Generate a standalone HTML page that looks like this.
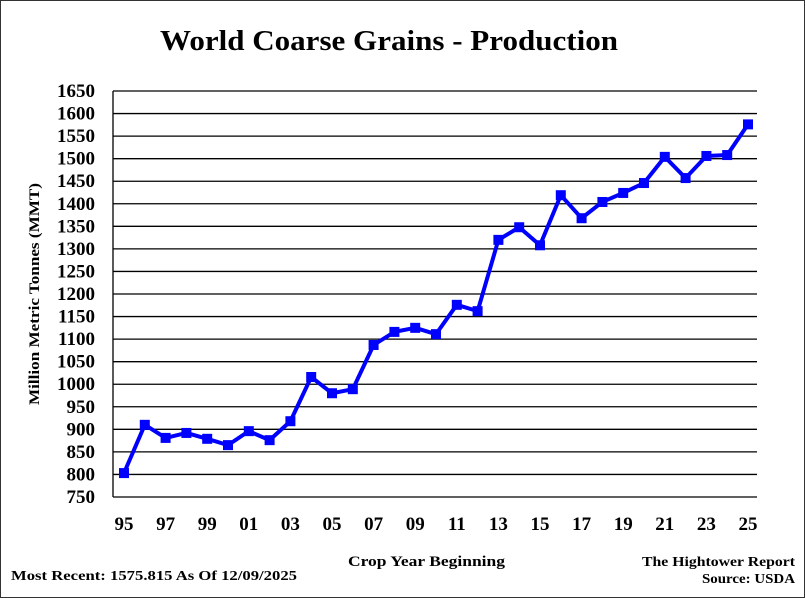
<!DOCTYPE html>
<html><head><meta charset="utf-8"><style>
html,body{margin:0;padding:0;background:#fff}
svg{display:block}
text{font-family:"Liberation Serif",serif;font-weight:bold;fill:#000}
</style></head><body>
<svg id="chart" width="805" height="598" viewBox="0 0 805 598">
<rect x="0.5" y="0.5" width="804" height="597" fill="#fff" stroke="#333"/>
<text x="160" y="50" font-size="29" textLength="458" lengthAdjust="spacingAndGlyphs">World Coarse Grains - Production</text>
<g id="grid"></g>
<g id="yticks"></g>
<g id="xticks"></g>
<g id="series"></g>
<text transform="translate(39,405) rotate(-90)" font-size="15" textLength="222" lengthAdjust="spacingAndGlyphs">Million Metric Tonnes (MMT)</text>
<text x="348" y="566" font-size="15" textLength="157" lengthAdjust="spacingAndGlyphs">Crop Year Beginning</text>
<text x="11" y="580" font-size="14" textLength="286" lengthAdjust="spacingAndGlyphs">Most Recent: 1575.815 As Of 12/09/2025</text>
<text x="642" y="566" font-size="14" textLength="153" lengthAdjust="spacingAndGlyphs">The Hightower Report</text>
<text x="702" y="583" font-size="14" textLength="93" lengthAdjust="spacingAndGlyphs">Source: USDA</text>
</svg>
<script>
const years = ["95","96","97","98","99","00","01","02","03","04","05","06","07","08","09","10","11","12","13","14","15","16","17","18","19","20","21","22","23","24","25"];
const production = [803,910,881,892,879,865,896,876,918,1016,980,989,1087,1116,1125,1111,1176,1162,1320,1348,1308,1419,1368,1404,1424,1446,1504,1457,1506,1508,1576];
const yTickValues = [750,800,850,900,950,1000,1050,1100,1150,1200,1250,1300,1350,1400,1450,1500,1550,1600,1650];
const xTickLabels = ["95","97","99","01","03","05","07","09","11","13","15","17","19","21","23","25"];

const NS="http://www.w3.org/2000/svg";
const yMin=750,yMax=1650,pTop=91,pBot=497,pLeft=113,pRight=757,x0=124,x1=748;
const yScale=v=>pBot-(v-yMin)/(yMax-yMin)*(pBot-pTop);
const xScale=i=>x0+i*(x1-x0)/(years.length-1);
function mk(t,a){const e=document.createElementNS(NS,t);for(const k in a)e.setAttribute(k,a[k]);return e;}
const grid=document.getElementById('grid'),yt=document.getElementById('yticks'),xt=document.getElementById('xticks'),ser=document.getElementById('series');
yTickValues.forEach(v=>{
  const l=mk('line',{x1:pLeft,x2:pRight,y1:yScale(v),y2:yScale(v),stroke:'#000','stroke-width':1.3});
  
  
  grid.appendChild(l);
  const t=mk('text',{x:95,y:yScale(v)+6,'font-size':19,'text-anchor':'end'});
  t.textContent=v;
  
  
  yt.appendChild(t);
});
const ax=mk('line',{x1:pLeft,x2:pLeft,y1:pTop,y2:pBot,stroke:'#000','stroke-width':1.3});


grid.appendChild(ax);
xTickLabels.forEach(lb=>{
  const i=years.indexOf(lb);
  const t=mk('text',{x:xScale(i),y:530,'font-size':19,'text-anchor':'middle'});
  t.textContent=lb;
  
  
  xt.appendChild(t);
});
const pts=production.map((v,i)=>xScale(i)+','+yScale(v)).join(' ');
const pl=mk('polyline',{points:pts,fill:'none',stroke:'#0000ff','stroke-width':4,'stroke-linejoin':'round'});


ser.appendChild(pl);
production.forEach((v,i)=>{
  const r=mk('rect',{x:xScale(i)-5,y:yScale(v)-5,width:10,height:10,fill:'#0000ff'});
  
  
  ser.appendChild(r);
});
</script>
</body></html>
